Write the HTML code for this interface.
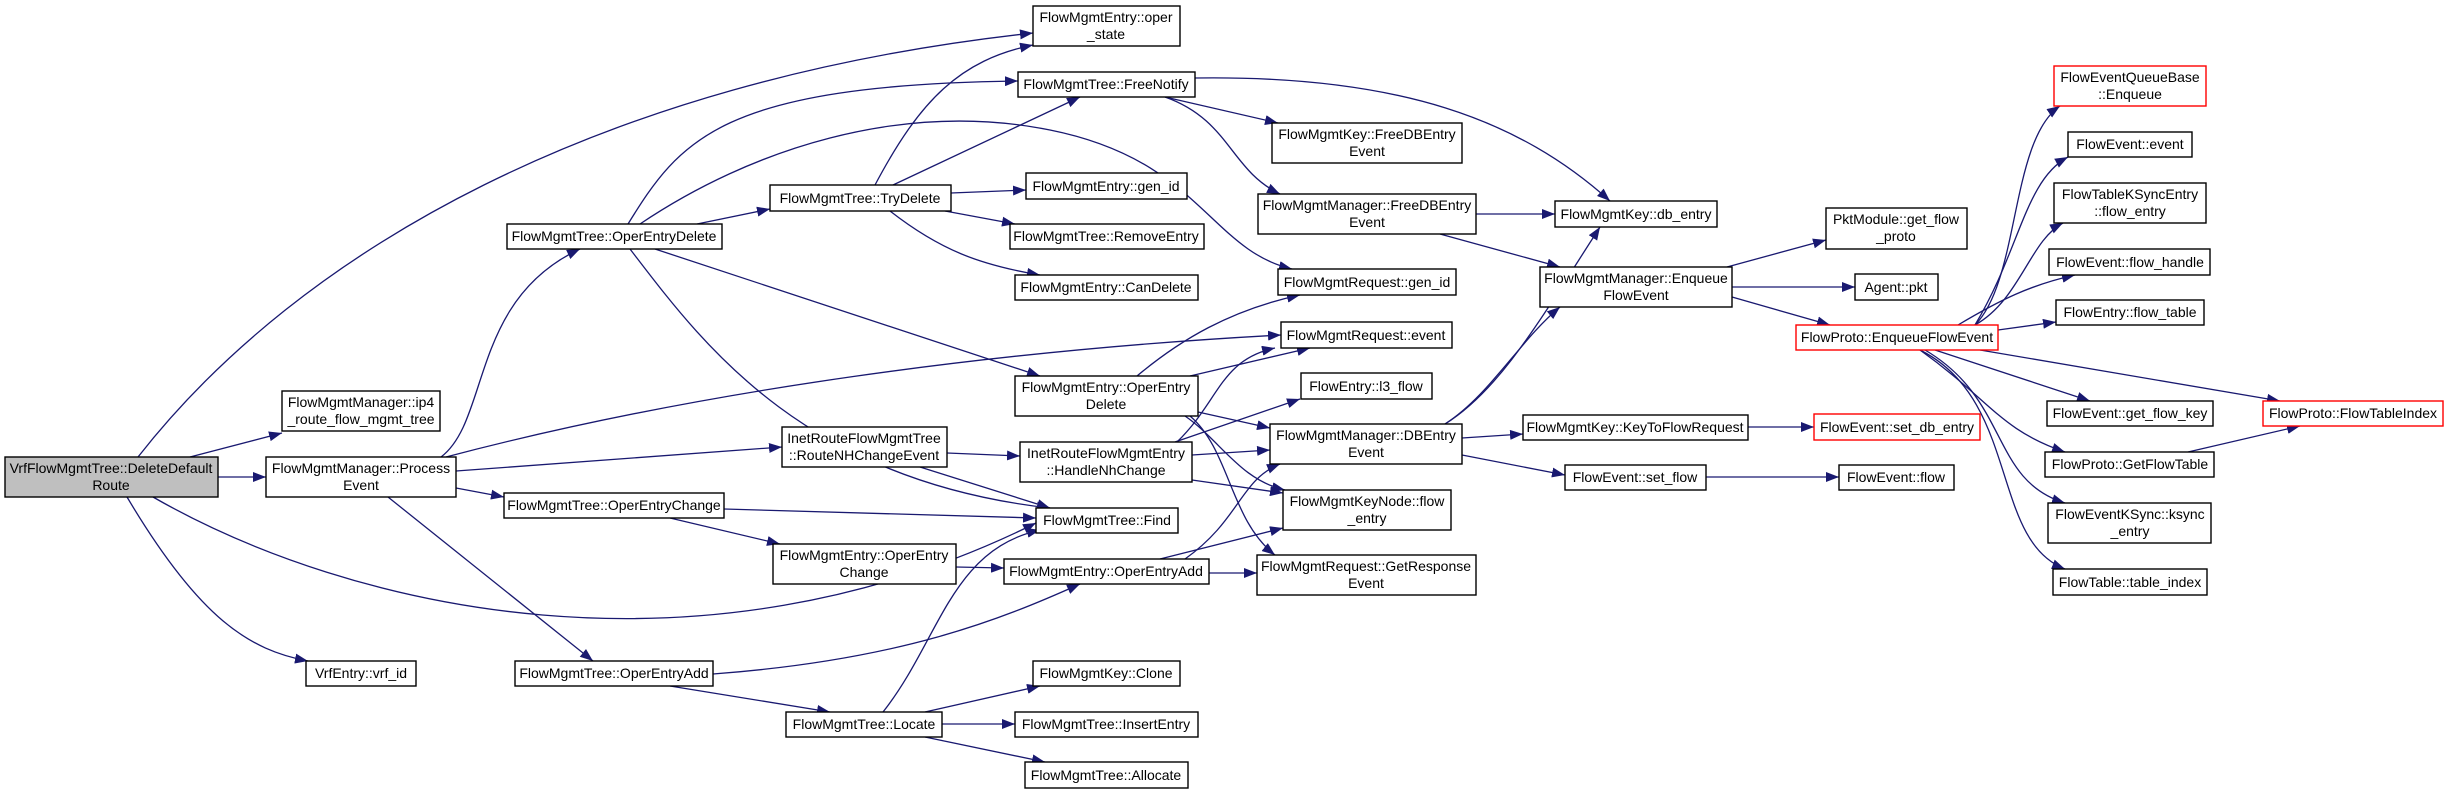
<!DOCTYPE html>
<html><head><meta charset="utf-8"><style>
html,body{margin:0;padding:0;background:#fff;}
svg{display:block;}
text{font-family:"Liberation Sans",Arial,sans-serif;font-size:14px;fill:#000;text-anchor:middle;}
.n{fill:#fff;stroke:#000;stroke-width:1.4;}
.r{fill:#fff;stroke:#ff0000;stroke-width:1.4;}
.g{fill:#bfbfbf;stroke:#000;stroke-width:1.4;}
path.e{fill:none;stroke:#191970;stroke-width:1.3;marker-end:url(#a);}
</style></head><body>
<svg width="2448" height="794" viewBox="0 0 2448 794" xmlns="http://www.w3.org/2000/svg">
<defs><marker id="a" markerUnits="userSpaceOnUse" markerWidth="14" markerHeight="10" refX="13" refY="5" orient="auto"><path d="M0,0 L13,5 L0,10 z" fill="#191970"/></marker></defs>
<g>
<path class="e" d="M138,457 C300,250 600,80 1033,33"/>
<path class="e" d="M190,457 L282,433"/>
<path class="e" d="M218,477 L266,477"/>
<path class="e" d="M153,497 C350,610 700,690 1036,523"/>
<path class="e" d="M127,497 C200,620 250,650 308,661"/>
<path class="e" d="M441,457 C490,420 470,300 580,249"/>
<path class="e" d="M446,457 C700,390 1000,350 1281,335"/>
<path class="e" d="M456,471 L782,447"/>
<path class="e" d="M456,488 L504,497"/>
<path class="e" d="M388,497 L593,661"/>
<path class="e" d="M628,224 C680,140 720,85 1018,81"/>
<path class="e" d="M640,224 C750,150 900,100 1050,130 C1200,160 1210,250 1292,269"/>
<path class="e" d="M697,224 L770,209"/>
<path class="e" d="M630,249 C700,340 800,480 1050,508"/>
<path class="e" d="M655,249 L1040,376"/>
<path class="e" d="M875,185 C920,100 960,60 1033,45"/>
<path class="e" d="M893,185 L1080,97"/>
<path class="e" d="M951,193 L1026,190"/>
<path class="e" d="M945,211 L1015,224"/>
<path class="e" d="M890,211 C940,250 980,265 1040,275"/>
<path class="e" d="M1195,78 C1400,75 1520,120 1610,201"/>
<path class="e" d="M1165,97 L1278,123"/>
<path class="e" d="M1165,97 C1230,120 1230,170 1280,194"/>
<path class="e" d="M1476,214 L1555,214"/>
<path class="e" d="M1440,234 L1560,267"/>
<path class="e" d="M1137,376 C1180,340 1230,310 1300,295"/>
<path class="e" d="M1190,376 L1310,348"/>
<path class="e" d="M1198,412 L1270,428"/>
<path class="e" d="M1185,416 C1220,440 1240,480 1285,490"/>
<path class="e" d="M1190,416 C1230,450 1230,520 1275,555"/>
<path class="e" d="M947,453 L1020,456"/>
<path class="e" d="M920,467 L1050,508"/>
<path class="e" d="M1177,442 C1220,400 1220,360 1275,348"/>
<path class="e" d="M1175,442 L1300,399"/>
<path class="e" d="M1192,455 L1270,450"/>
<path class="e" d="M1192,480 L1283,493"/>
<path class="e" d="M724,509 L1036,518"/>
<path class="e" d="M670,518 L780,544"/>
<path class="e" d="M956,567 L1004,568"/>
<path class="e" d="M713,674 C900,660 1000,620 1080,584"/>
<path class="e" d="M670,686 L830,712"/>
<path class="e" d="M883,712 C940,640 950,550 1040,530"/>
<path class="e" d="M925,712 L1040,686"/>
<path class="e" d="M942,724 L1015,724"/>
<path class="e" d="M925,737 L1045,762"/>
<path class="e" d="M1160,559 L1283,528"/>
<path class="e" d="M1185,559 C1240,520 1240,480 1280,464"/>
<path class="e" d="M1209,573 L1257,573"/>
<path class="e" d="M1445,424 C1500,390 1540,320 1600,227"/>
<path class="e" d="M1445,424 C1490,395 1520,340 1560,307"/>
<path class="e" d="M1462,438 L1523,434"/>
<path class="e" d="M1462,455 L1565,475"/>
<path class="e" d="M1748,427 L1814,427"/>
<path class="e" d="M1706,477 L1839,477"/>
<path class="e" d="M1727,267 L1826,240"/>
<path class="e" d="M1732,287 L1855,287"/>
<path class="e" d="M1732,297 L1830,325"/>
<path class="e" d="M1975,325 C2020,280 2010,140 2060,106"/>
<path class="e" d="M1975,325 C2020,250 2025,180 2068,157"/>
<path class="e" d="M1975,325 C2020,300 2030,240 2063,223"/>
<path class="e" d="M1958,325 C2000,300 2030,285 2075,275"/>
<path class="e" d="M1998,330 L2056,322"/>
<path class="e" d="M1980,350 L2280,401"/>
<path class="e" d="M1935,350 L2090,401"/>
<path class="e" d="M1920,350 C1990,400 2000,430 2065,452"/>
<path class="e" d="M1925,350 C2010,400 1990,480 2065,503"/>
<path class="e" d="M1920,350 C2020,400 1990,540 2065,569"/>
<path class="e" d="M2188,452 L2300,426"/>
</g>
<g>
<rect class="g" x="5" y="457" width="213" height="40"/><text x="111" y="473">VrfFlowMgmtTree::DeleteDefault</text><text x="111" y="490">Route</text>
<rect class="n" x="282" y="391" width="158" height="40"/><text x="361" y="407">FlowMgmtManager::ip4</text><text x="361" y="424">_route_flow_mgmt_tree</text>
<rect class="n" x="266" y="457" width="190" height="40"/><text x="361" y="473">FlowMgmtManager::Process</text><text x="361" y="490">Event</text>
<rect class="n" x="306" y="661" width="110" height="25"/><text x="361" y="678">VrfEntry::vrf_id</text>
<rect class="n" x="507" y="224" width="215" height="25"/><text x="614" y="241">FlowMgmtTree::OperEntryDelete</text>
<rect class="n" x="504" y="493" width="220" height="25"/><text x="614" y="510">FlowMgmtTree::OperEntryChange</text>
<rect class="n" x="515" y="661" width="198" height="25"/><text x="614" y="678">FlowMgmtTree::OperEntryAdd</text>
<rect class="n" x="770" y="185" width="181" height="26"/><text x="860" y="203">FlowMgmtTree::TryDelete</text>
<rect class="n" x="782" y="427" width="165" height="40"/><text x="864" y="443">InetRouteFlowMgmtTree</text><text x="864" y="460">::RouteNHChangeEvent</text>
<rect class="n" x="773" y="544" width="183" height="40"/><text x="864" y="560">FlowMgmtEntry::OperEntry</text><text x="864" y="577">Change</text>
<rect class="n" x="786" y="712" width="156" height="25"/><text x="864" y="729">FlowMgmtTree::Locate</text>
<rect class="n" x="1033" y="6" width="147" height="40"/><text x="1106" y="22">FlowMgmtEntry::oper</text><text x="1106" y="39">_state</text>
<rect class="n" x="1018" y="72" width="177" height="25"/><text x="1106" y="89">FlowMgmtTree::FreeNotify</text>
<rect class="n" x="1026" y="173" width="161" height="26"/><text x="1106" y="191">FlowMgmtEntry::gen_id</text>
<rect class="n" x="1010" y="224" width="194" height="25"/><text x="1106" y="241">FlowMgmtTree::RemoveEntry</text>
<rect class="n" x="1015" y="275" width="183" height="25"/><text x="1106" y="292">FlowMgmtEntry::CanDelete</text>
<rect class="n" x="1015" y="376" width="183" height="40"/><text x="1106" y="392">FlowMgmtEntry::OperEntry</text><text x="1106" y="409">Delete</text>
<rect class="n" x="1020" y="442" width="172" height="40"/><text x="1106" y="458">InetRouteFlowMgmtEntry</text><text x="1106" y="475">::HandleNhChange</text>
<rect class="n" x="1036" y="508" width="142" height="25"/><text x="1107" y="525">FlowMgmtTree::Find</text>
<rect class="n" x="1004" y="559" width="205" height="25"/><text x="1106" y="576">FlowMgmtEntry::OperEntryAdd</text>
<rect class="n" x="1033" y="661" width="147" height="25"/><text x="1106" y="678">FlowMgmtKey::Clone</text>
<rect class="n" x="1015" y="712" width="183" height="25"/><text x="1106" y="729">FlowMgmtTree::InsertEntry</text>
<rect class="n" x="1025" y="762" width="163" height="26"/><text x="1106" y="780">FlowMgmtTree::Allocate</text>
<rect class="n" x="1272" y="123" width="190" height="40"/><text x="1367" y="139">FlowMgmtKey::FreeDBEntry</text><text x="1367" y="156">Event</text>
<rect class="n" x="1258" y="194" width="218" height="40"/><text x="1367" y="210">FlowMgmtManager::FreeDBEntry</text><text x="1367" y="227">Event</text>
<rect class="n" x="1278" y="269" width="178" height="26"/><text x="1367" y="287">FlowMgmtRequest::gen_id</text>
<rect class="n" x="1281" y="322" width="171" height="26"/><text x="1366" y="340">FlowMgmtRequest::event</text>
<rect class="n" x="1301" y="373" width="131" height="26"/><text x="1366" y="391">FlowEntry::l3_flow</text>
<rect class="n" x="1270" y="424" width="192" height="40"/><text x="1366" y="440">FlowMgmtManager::DBEntry</text><text x="1366" y="457">Event</text>
<rect class="n" x="1283" y="490" width="168" height="40"/><text x="1367" y="506">FlowMgmtKeyNode::flow</text><text x="1367" y="523">_entry</text>
<rect class="n" x="1257" y="555" width="219" height="40"/><text x="1366" y="571">FlowMgmtRequest::GetResponse</text><text x="1366" y="588">Event</text>
<rect class="n" x="1555" y="201" width="162" height="26"/><text x="1636" y="219">FlowMgmtKey::db_entry</text>
<rect class="n" x="1540" y="267" width="192" height="40"/><text x="1636" y="283">FlowMgmtManager::Enqueue</text><text x="1636" y="300">FlowEvent</text>
<rect class="n" x="1523" y="415" width="225" height="25"/><text x="1635" y="432">FlowMgmtKey::KeyToFlowRequest</text>
<rect class="n" x="1565" y="465" width="141" height="25"/><text x="1635" y="482">FlowEvent::set_flow</text>
<rect class="n" x="1826" y="208" width="141" height="41"/><text x="1896" y="224">PktModule::get_flow</text><text x="1896" y="241">_proto</text>
<rect class="n" x="1855" y="274" width="83" height="26"/><text x="1896" y="292">Agent::pkt</text>
<rect class="r" x="1796" y="325" width="202" height="25"/><text x="1897" y="342">FlowProto::EnqueueFlowEvent</text>
<rect class="r" x="1814" y="414" width="166" height="26"/><text x="1897" y="432">FlowEvent::set_db_entry</text>
<rect class="n" x="1839" y="465" width="115" height="25"/><text x="1896" y="482">FlowEvent::flow</text>
<rect class="r" x="2054" y="66" width="152" height="40"/><text x="2130" y="82">FlowEventQueueBase</text><text x="2130" y="99">::Enqueue</text>
<rect class="n" x="2068" y="132" width="124" height="25"/><text x="2130" y="149">FlowEvent::event</text>
<rect class="n" x="2054" y="183" width="152" height="40"/><text x="2130" y="199">FlowTableKSyncEntry</text><text x="2130" y="216">::flow_entry</text>
<rect class="n" x="2049" y="249" width="161" height="26"/><text x="2130" y="267">FlowEvent::flow_handle</text>
<rect class="n" x="2056" y="300" width="148" height="25"/><text x="2130" y="317">FlowEntry::flow_table</text>
<rect class="n" x="2047" y="401" width="166" height="25"/><text x="2130" y="418">FlowEvent::get_flow_key</text>
<rect class="r" x="2263" y="401" width="180" height="25"/><text x="2353" y="418">FlowProto::FlowTableIndex</text>
<rect class="n" x="2045" y="452" width="169" height="25"/><text x="2130" y="469">FlowProto::GetFlowTable</text>
<rect class="n" x="2048" y="503" width="163" height="40"/><text x="2130" y="519">FlowEventKSync::ksync</text><text x="2130" y="536">_entry</text>
<rect class="n" x="2053" y="569" width="154" height="26"/><text x="2130" y="587">FlowTable::table_index</text>
</g>
</svg>
</body></html>
